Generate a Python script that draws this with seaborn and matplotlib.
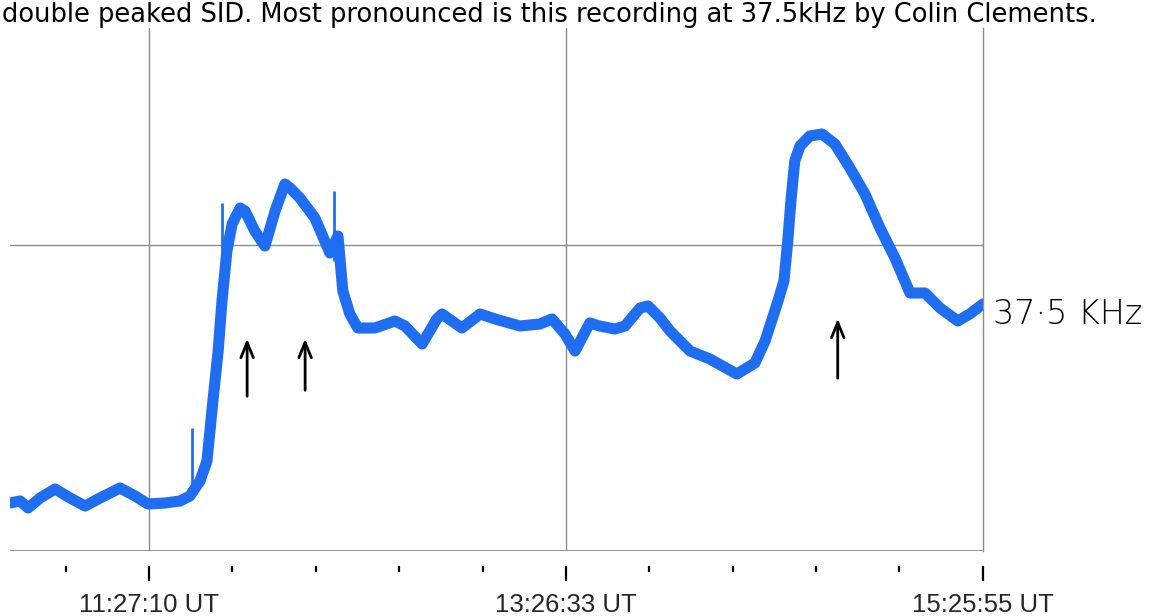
import numpy as np
import pandas as pd
import seaborn as sns
import matplotlib.pyplot as plt

# minutes after 11:27:10 UT and relative signal level (bottom line = 0)
minutes = [-39.8, -36.9, -34.6, -31.2, -26.9, -22.6, -18.3, -14.0, -8.3, -4.0, -0.3,
           4.6, 8.9, 11.7, 14.6, 16.6, 18.3, 19.8, 20.9, 22.3, 23.8, 26.1, 27.5,
           30.3, 33.2, 36.1, 38.9, 40.4, 43.2, 47.5, 51.8, 54.1, 55.5, 57.5, 59.8,
           64.7, 70.4, 73.3, 78.2, 82.4, 83.9, 89.6, 94.8, 99.1, 106.2, 111.9,
           115.4, 119.1, 122.0, 126.2, 129.0, 133.4, 136.3, 140.6, 142.9, 146.3,
           149.2, 154.9, 160.6, 168.3, 173.5, 176.4, 180.1, 181.8, 182.9, 183.8,
           184.9, 186.4, 189.2, 192.7, 196.4, 200.7, 205.0, 209.3, 213.6, 217.9,
           222.2, 226.5, 231.6, 235.0, 238.8]
signal = [4.8, 5.0, 4.3, 5.3, 6.2, 5.3, 4.5, 5.3, 6.3, 5.5, 4.7,
          4.8, 5.0, 5.5, 7.0, 9.0, 15.0, 20.0, 25.0, 30.0, 32.7, 34.3, 34.0,
          32.0, 30.5, 34.0, 36.7, 36.3, 35.3, 33.3, 29.8, 31.5, 26.0, 23.7, 22.3,
          22.3, 23.0, 22.5, 20.7, 23.2, 23.7, 22.3, 23.7, 23.2, 22.5, 22.7,
          23.2, 21.7, 20.0, 22.8, 22.5, 22.2, 22.5, 24.3, 24.5, 23.3,
          22.0, 20.0, 19.2, 17.7, 18.8, 21.0, 25.0, 27.0, 31.0, 35.0,
          39.0, 40.5, 41.5, 41.7, 40.7, 38.3, 35.7, 32.3, 29.3, 25.8,
          25.8, 24.3, 23.0, 23.7, 24.7]

# short spikes in the trace
spike_x = [12.3, 20.9, 53.0]
spike_lo = [5.5, 25.0, 29.0]
spike_hi = [12.3, 34.8, 36.0]

tick_pos = [0, 119.38, 238.75]
tick_labels = ["11:27:10 UT", "13:26:33 UT", "15:25:55 UT"]
minor_pos = [-23.88, 23.88, 47.75, 71.63, 95.5, 143.26, 167.13, 191.0, 214.88]

# hand drawn arrows (x, tail y, head y)
arrow_x = [28.1, 44.7, 197.2]
arrow_tail = [15.2, 15.8, 17.0]
arrow_head = [21.5, 21.5, 23.5]

df = pd.DataFrame({"minutes": minutes, "signal": signal})

sns.set_style("white")
fig = plt.figure(figsize=(11.54, 6.16), dpi=100)
ax = fig.add_axes([10/1154, 1 - 551/616, 973/1154, 523/616])

blue = "#1f6ef2"
sns.lineplot(data=df, x="minutes", y="signal", ax=ax, color=blue, linewidth=8,
             solid_joinstyle="round", solid_capstyle="round")
ax.vlines(spike_x, spike_lo, spike_hi, color=blue, linewidth=2)

ax.set_xlim(-39.8, 238.8)
ax.set_ylim(0, 52.3)

# paper grid
grid = "#8c8c8c"
for x in tick_pos[:2]:
    ax.axvline(x, color=grid, linewidth=1, zorder=0)
ax.axhline(30.6, color=grid, linewidth=1, zorder=0)
ax.axhline(0.05, color=grid, linewidth=1.3, zorder=0)

for s in ["top", "left"]:
    ax.spines[s].set_visible(False)
ax.spines["right"].set_color(grid)
ax.spines["right"].set_linewidth(1)
ax.spines["bottom"].set_position(("outward", 11))
ax.spines["bottom"].set_visible(False)

ax.set_xticks(tick_pos)
ax.set_xticklabels(tick_labels, fontsize=18.5, family="Liberation Sans")
ax.set_xticks(minor_pos, minor=True)
ax.tick_params(axis="x", which="major", bottom=True, length=11, width=1.6,
               color="black", pad=8)
ax.tick_params(axis="x", which="minor", bottom=True, length=4, width=1.6, color="black")
ax.set_yticks([])
ax.set_xlabel("")
ax.set_ylabel("")

for x, t, h in zip(arrow_x, arrow_tail, arrow_head):
    ax.annotate("", xy=(x, h), xytext=(x, t),
                arrowprops=dict(arrowstyle="->,head_length=1.1,head_width=0.45",
                                color="black", lw=2))

fig.text(993/1154, 1 - 314/616, "37·5 KHz", fontsize=24, va="center", ha="left",
         family="DejaVu Sans", fontweight="light", color="black")

fig.text(0.002, 1 - 2/616,
         "double peaked SID. Most pronounced is this recording at 37.5kHz by Colin Clements.",
         fontsize=18.5, family="DejaVu Sans", va="top", ha="left", color="black")

fig.savefig("out.png", dpi=100)
